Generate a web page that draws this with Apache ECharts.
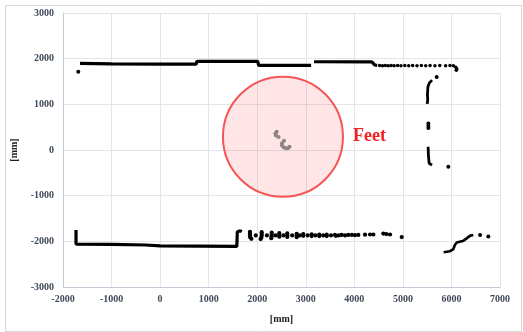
<!DOCTYPE html>
<html>
<head>
<meta charset="utf-8">
<script src="https://cdn.jsdelivr.net/npm/echarts@6/dist/echarts.min.js"></script>
<style>
  html, body { margin: 0; padding: 0; background: #fff; }
  #scan { width: 523px; height: 332px; }
</style>
</head>
<body>
<div id="scan"></div>
<script>
// scan data in mm
var topWallA = [[-1650, 1895], [-1000, 1888], [0, 1882], [740, 1880], [760, 1942], [2010, 1942], [2030, 1855], [3110, 1855]];
var topWallB = [[3170, 1932], [4360, 1930], [4420, 1862], [4470, 1852]];
var topDots = [[4520, 1850], [4580, 1846], [4640, 1850], [4700, 1846], [4760, 1850], [4820, 1846], [4890, 1850], [4960, 1846],
  [5040, 1850], [5120, 1846], [5200, 1850], [5290, 1846], [5380, 1850], [5470, 1846], [5560, 1850], [5660, 1846],
  [5760, 1850], [5880, 1846], [5970, 1850], [6040, 1845], [6090, 1810], [6110, 1775], [6100, 1745]];
var bottomWall = [[-1732, -1750], [-1732, -2060], [-1000, -2068], [-300, -2080], [0, -2100], [1580, -2112], [1590, -1790], [1650, -1770], [1680, -1790]];
var bottomDash = [[1851, -1790], [1851, -1830], [1851, -1870], [1855, -1910], [1880, -1945], [1970, -1870],
  [2092, -1800], [2092, -1840], [2092, -1880], [2085, -1920], [2070, -1950], [2200, -1870],
  [2298, -1810], [2298, -1850], [2298, -1890], [2290, -1930], [2380, -1870],
  [2455, -1820], [2455, -1860], [2455, -1900], [2540, -1870],
  [2619, -1825], [2619, -1865], [2619, -1905], [2720, -1870],
  [2813, -1835], [2813, -1875], [2813, -1910], [2880, -1870],
  [2949, -1840], [2949, -1880], [3040, -1870], [3122, -1845], [3122, -1885], [3200, -1870],
  [3279, -1850], [3279, -1885], [3360, -1870],
  [3431, -1855], [3431, -1885], [3520, -1870], [3602, -1860], [3620, -1880], [3680, -1870], [3740, -1860], [3810, -1870],
  [3876, -1860], [3950, -1860], [4014, -1865], [4082, -1860], [4220, -1855], [4323, -1850],
  [4391, -1850], [4597, -1830], [4660, -1840], [4735, -1850], [4976, -1907]];
var bottomRight = [[5840, -2240], [5970, -2216], [6040, -2170], [6070, -2080], [6110, -2025], [6250, -1985], [6320, -1930], [6380, -1880], [6450, -1860]];
var rightWallTop = [[5600, 1530], [5545, 1470], [5515, 1380], [5505, 1200], [5512, 1100], [5500, 1010]];
var rightWallLow = [[5520, 70], [5525, -100], [5540, -290], [5600, -330]];
var singleDots = [[-1685, 1715], [5696, 1601], [5525, 580], [5525, 530], [5525, 480], [5936, -365], [6590, -1860], [6760, -1895]];
var feetPoints = [[2400, 400], [2375, 360], [2385, 320], [2440, 285],
  [2551, 204], [2510, 150], [2510, 100], [2545, 59], [2590, 40], [2630, 40], [2665, 72]];
var feetCenter = [[2530, 290]];

var xTicks = { min: -2000, max: 7000, step: 1000 };
var yTicks = { min: -3000, max: 3000, step: 1000 };

var serif = '"Liberation Serif", "DejaVu Serif", serif';

function wall(data, w) {
  return {
    type: 'line', data: data, showSymbol: false, symbol: 'none',
    lineStyle: { color: '#000', width: w || 3.2 }, z: 3, silent: true, animation: false
  };
}

function dots(data, size, color) {
  return {
    type: 'scatter', data: data, symbolSize: size, z: 3, silent: true,
    itemStyle: { color: color || '#000', opacity: 1 }
  };
}

var dom = document.getElementById('scan');
var myChart = echarts.init(dom, null, { renderer: 'canvas' });

var option = {
  backgroundColor: '#fff',
  animation: false,
  graphic: [{
    type: 'rect', left: 3, top: 3,
    shape: { width: 516, height: 326 },
    style: { fill: 'none', stroke: '#d6d6d6', lineWidth: 1 }, z: -1
  }],
  grid: { left: 63, right: 23, top: 13, bottom: 45 },
  xAxis: {
    type: 'value', min: xTicks.min, max: xTicks.max, interval: xTicks.step,
    name: '[mm]', nameLocation: 'middle', nameGap: 27,
    nameTextStyle: { fontFamily: serif, fontWeight: 'bold', fontSize: 10, color: '#222' },
    axisLine: { show: true, onZero: false, lineStyle: { color: '#c3cad6' } },
    axisTick: { show: false },
    axisLabel: { margin: 7, formatter: function (v) { return String(v); }, fontFamily: serif, fontWeight: 'bold', fontSize: 10, color: '#404a5a' },
    splitLine: { lineStyle: { color: '#e1e5ec' } }
  },
  yAxis: {
    type: 'value', min: yTicks.min, max: yTicks.max, interval: yTicks.step,
    name: '[mm]', nameLocation: 'middle', nameGap: 39, nameRotate: 90,
    nameTextStyle: { fontFamily: serif, fontWeight: 'bold', fontSize: 10, color: '#222' },
    axisLine: { show: true, onZero: false, lineStyle: { color: '#c3cad6' } },
    axisTick: { show: false },
    axisLabel: { margin: 9, formatter: function (v) { return String(v); }, fontFamily: serif, fontWeight: 'bold', fontSize: 10, color: '#404a5a' },
    splitLine: { lineStyle: { color: '#e1e5ec' } }
  },
  series: [
    {
      type: 'scatter', data: feetCenter, symbolSize: 120, z: 1, silent: true,
      itemStyle: { color: 'rgba(255,0,0,0.1)', borderColor: '#f65555', borderWidth: 2, opacity: 1 },
      label: {
        show: true, formatter: 'Feet', position: 'right', distance: 9,
        fontFamily: serif, fontWeight: 'bold', fontSize: 18, color: '#f52222'
      }
    },
    wall(topWallA), wall(topWallB), wall(bottomWall), wall(bottomRight, 2.6),
    wall(rightWallTop, 2.8), wall(rightWallLow, 2.8),
    dots(topDots, 3.5), dots(bottomDash, 4.2), dots(singleDots, 4),
    dots(feetPoints, 4, '#8d8585')
  ]
};

myChart.setOption(option);
window.onresize = myChart.resize;
</script>
</body>
</html>
